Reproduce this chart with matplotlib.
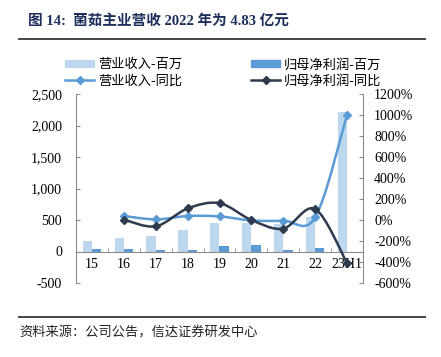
import matplotlib
matplotlib.use("Agg")
import matplotlib.pyplot as plt
from matplotlib.path import Path
from matplotlib.patches import PathPatch, Patch
from matplotlib.lines import Line2D
import numpy as np

# data
years = ["15", "16", "17", "18", "19", "20", "21", "22", "23H1"]
revenue = [159, 218, 250, 340, 456, 456, 430, 552, 2220]        # 营业收入-百万
net_profit = [37, 37, 20, 30, 95, 100, 20, 48, 0]               # 归母净利润-百万
revenue_yoy = [None, 38, 6, 38, 34, -4, -6, 25, 1000]          # 营业收入-同比 (%)
profit_yoy = [None, 3, -60, 110, 160, 0, -82, 104, -410]       # 归母净利润-同比 (%)

left_ticks = [-500, 0, 500, 1000, 1500, 2000, 2500]
right_ticks = list(range(-600, 1201, 200))

LIGHT = "#bdd7ee"
MID = "#5b9bd5"
DARK = "#2e3a4e"
AXIS = "#8c8c8c"

serif = ["Liberation Serif", "Noto Sans CJK SC"]
cjk = ["Noto Sans CJK SC", "DejaVu Sans"]
plt.rcParams["font.family"] = serif


def smooth_path(xs, ys, k=1 / 6):
    """Excel-style smoothed line: cubic Bezier through the points."""
    n = len(xs)
    verts = [(xs[0], ys[0])]
    codes = [Path.MOVETO]
    for i in range(n - 1):
        x0, y0 = xs[max(i - 1, 0)], ys[max(i - 1, 0)]
        x1, y1 = xs[i], ys[i]
        x2, y2 = xs[i + 1], ys[i + 1]
        x3, y3 = xs[min(i + 2, n - 1)], ys[min(i + 2, n - 1)]
        verts += [(x1 + (x2 - x0) * k, y1 + (y2 - y0) * k),
                  (x2 - (x3 - x1) * k, y2 - (y3 - y1) * k),
                  (x2, y2)]
        codes += [Path.CURVE4] * 3
    return Path(verts, codes)


fig = plt.figure(figsize=(4.41, 3.57), dpi=100)
ax = fig.add_axes([76 / 441, 1 - 283 / 357, 287 / 441, 189 / 357])
ax2 = ax.twinx()

x = np.arange(len(years))
w = 0.29
ax.bar(x - w / 2, revenue, w, color=LIGHT, zorder=2)
ax.bar(x + w / 2, net_profit, w, color=MID, zorder=2)

ax.set_xlim(-0.5, len(years) - 0.5)
ax.set_ylim(-500, 2500)
ax.set_yticks(left_ticks, [f"{v:,}" for v in left_ticks])
ax.set_xticks(x, years)
ax.set_xticks(x[:-1] + 0.5, minor=True)
ax.tick_params(axis="x", which="major", length=0, pad=5, labelsize=10)
ax.tick_params(axis="x", which="minor", direction="in", length=3, color=AXIS)
ax.tick_params(axis="y", direction="in", length=3, color=AXIS, pad=10, labelsize=10)

ax.spines["bottom"].set_position(("data", 0))
for s in ["top", "right"]:
    ax.spines[s].set_visible(False)
for s in ["bottom", "left"]:
    ax.spines[s].set_color(AXIS)
    ax.spines[s].set_linewidth(0.8)

ax2.set_ylim(-600, 1200)
ax2.set_yticks(right_ticks, [f"{v}%" for v in right_ticks])
ax2.tick_params(axis="y", direction="in", length=3, color=AXIS, pad=8, labelsize=10)
for s in ["top", "left", "bottom"]:
    ax2.spines[s].set_visible(False)
ax2.spines["right"].set_color(AXIS)
ax2.spines["right"].set_linewidth(0.8)

for yoy, color in [(revenue_yoy, MID), (profit_yoy, DARK)]:
    xs = [i for i, v in enumerate(yoy) if v is not None]
    ys = [v for v in yoy if v is not None]
    ax2.add_patch(PathPatch(smooth_path(xs, ys), fill=False, edgecolor=color,
                            lw=1.8, zorder=3, clip_on=False))
    ax2.plot(xs, ys, "D", color=color, ms=4.5, zorder=4, clip_on=False)

handles = [
    Patch(color=LIGHT, label="营业收入-百万"),
    Line2D([], [], color=MID, lw=1.8, marker="D", ms=4, label="营业收入-同比"),
    Patch(color=MID, label="归母净利润-百万"),
    Line2D([], [], color=DARK, lw=1.8, marker="D", ms=4, label="归母净利润-同比"),
]
fig.legend(handles=handles, ncol=2, loc="center left",
           bbox_to_anchor=(60 / 441, 1 - 73 / 357), frameon=False,
           prop={"family": cjk, "size": 9.5}, handlelength=2.2,
           handleheight=0.5, handletextpad=0.3, columnspacing=5.2,
           labelspacing=0.25, borderaxespad=0)

fig.text(28 / 441, 1 - 21 / 357, "图 14:  菌茹主业营收 2022 年为 4.83 亿元",
         fontsize=10.5, fontweight="bold", color="#1c2f5a",
         va="center", ha="left")
fig.add_artist(Line2D([19 / 441, 425 / 441], [1 - 39 / 357] * 2,
                      color="#444444", lw=1.4, transform=fig.transFigure))
fig.add_artist(Line2D([19 / 441, 425 / 441], [1 - 317 / 357] * 2,
                      color="#444444", lw=1.4, transform=fig.transFigure))
fig.text(19 / 441, 1 - 333 / 357, "资料来源：公司公告，信达证券研发中心",
         family=cjk, fontsize=9.5, color="#222222", va="center", ha="left")

fig.savefig("out.png", dpi=100)
